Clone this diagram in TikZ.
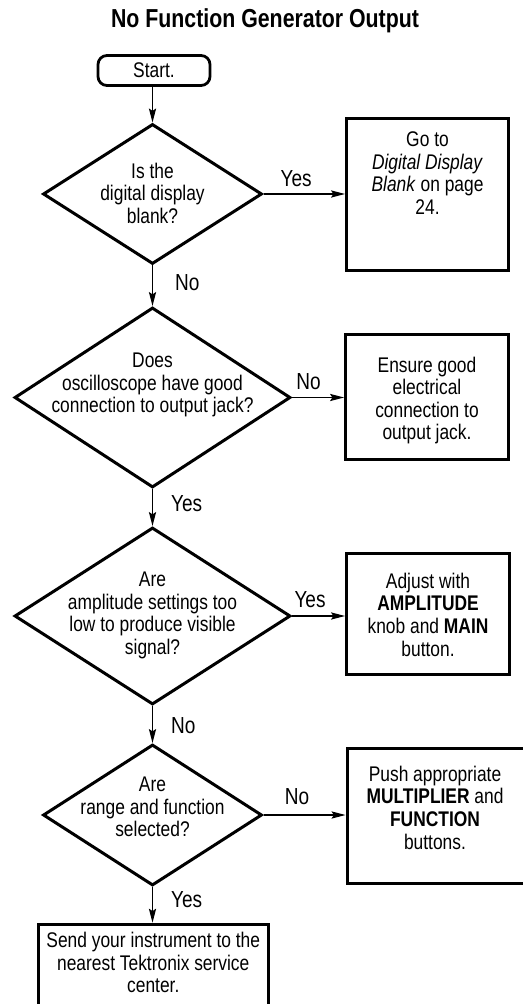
\documentclass[tikz,border=0pt]{standalone}
\usepackage{fontspec}
\setmainfont{Liberation Sans}[FakeStretch=0.82]
\usetikzlibrary{shapes.geometric,arrows.meta}
\newcommand{\txtblock}[3]{\parbox[c][#1][t]{#2}{\centering #3}}
\begin{document}
\begin{tikzpicture}[
  x=0.5pt, y=-0.5pt,
  txt/.style={font=\fontsize{10.6pt}{11.3pt}\selectfont},
  ends/.style={txt, draw, line width=1.4pt, rounded corners=4.5pt,
    minimum width=56pt, minimum height=15pt, inner sep=0pt},
  decision/.style={txt, diamond, draw, line width=1.5pt, inner sep=-60pt},
  process/.style={txt, rectangle, draw, line width=1.5pt, inner sep=0pt},
  flow/.style={line width=0.6pt, -{Stealth[length=7pt,width=3.6pt,inset=1.2pt]}},
  answer/.style={font=\fontsize{11.6pt}{12pt}\selectfont, inner sep=0pt}]
\useasboundingbox (0,0) rectangle (523,1004);
\node[font=\fontsize{13pt}{15pt}\selectfont\bfseries, anchor=base] (title) at (265,28) {No Function Generator Output};
\node[ends] (start) at (154,70.5) {Start.};
\node[decision, minimum width=109.5pt, minimum height=70pt] (q1) at (152.5,194)
  {\txtblock{31pt}{100pt}{Is the\\digital display\\blank?}};
\node[process, minimum width=81pt, minimum height=76pt] (a1) at (427.5,195)
  {\txtblock{63pt}{78pt}{Go to\\\textit{Digital Display}\\\textit{Blank} on page\\24.}};
\node[decision, minimum width=138pt, minimum height=90pt] (q2) at (152.5,397.5)
  {\txtblock{44.5pt}{136pt}{Does\\oscilloscope have good\\connection to output jack?}};
\node[process, minimum width=81.5pt, minimum height=62.75pt] (a2) at (427,397)
  {\txtblock{40.3pt}{78pt}{Ensure good\\electrical\\connection to\\output jack.}};
\node[decision, minimum width=138pt, minimum height=88.5pt] (q3) at (152.5,616)
  {\txtblock{44pt}{136pt}{Are\\amplitude settings too\\low to produce visible\\signal?}};
\node[process, minimum width=81.5pt, minimum height=60.5pt] (a3) at (428,613.5)
  {\txtblock{40.5pt}{78pt}{Adjust with\\\textbf{AMPLITUDE}\\knob and \textbf{MAIN}\\button.}};
\node[decision, minimum width=109.5pt, minimum height=70.5pt] (q4) at (152.5,815)
  {\txtblock{38pt}{100pt}{Are\\range and function\\selected?}};
\node[process, minimum width=92pt, minimum height=67.5pt] (a4) at (439,816)
  {\hspace*{-4pt}\txtblock{50pt}{86pt}{Push appropriate\\\textbf{MULTIPLIER} and\\\textbf{FUNCTION}\\buttons.}};
\node[process, minimum width=115.25pt, minimum height=43pt] (a5) at (153.25,967.2)
  {\txtblock{35pt}{112pt}{Send your instrument to the\\nearest Tektronix service\\center.}};
\draw[flow] (q1.north |- start.south) -- (q1.north);
\draw[flow] (q1.east) -- node[answer, pos=0.4, above=3.5pt] {Yes} (a1.west |- q1.east);
\draw[flow] (q1.south) -- node[answer, pos=0.42, right=11pt] {No} (q2.north);
\draw[flow] (q2.east) -- node[answer, pos=0.32, above=3.5pt] {No} (a2.west |- q2.east);
\draw[flow] (q2.south) -- node[answer, pos=0.4, right=9pt] {Yes} (q3.north);
\draw[flow] (q3.east) -- node[answer, pos=0.34, above=4pt] {Yes} (a3.west |- q3.east);
\draw[flow] (q3.south) -- node[answer, pos=0.52, right=9pt] {No} (q4.north);
\draw[flow] (q4.east) -- node[answer, pos=0.41, above=5pt] {No} (a4.west |- q4.east);
\draw[flow] (q4.south) -- node[answer, pos=0.34, right=9pt] {Yes} (q4.south |- a5.north);
\end{tikzpicture}
\end{document}
